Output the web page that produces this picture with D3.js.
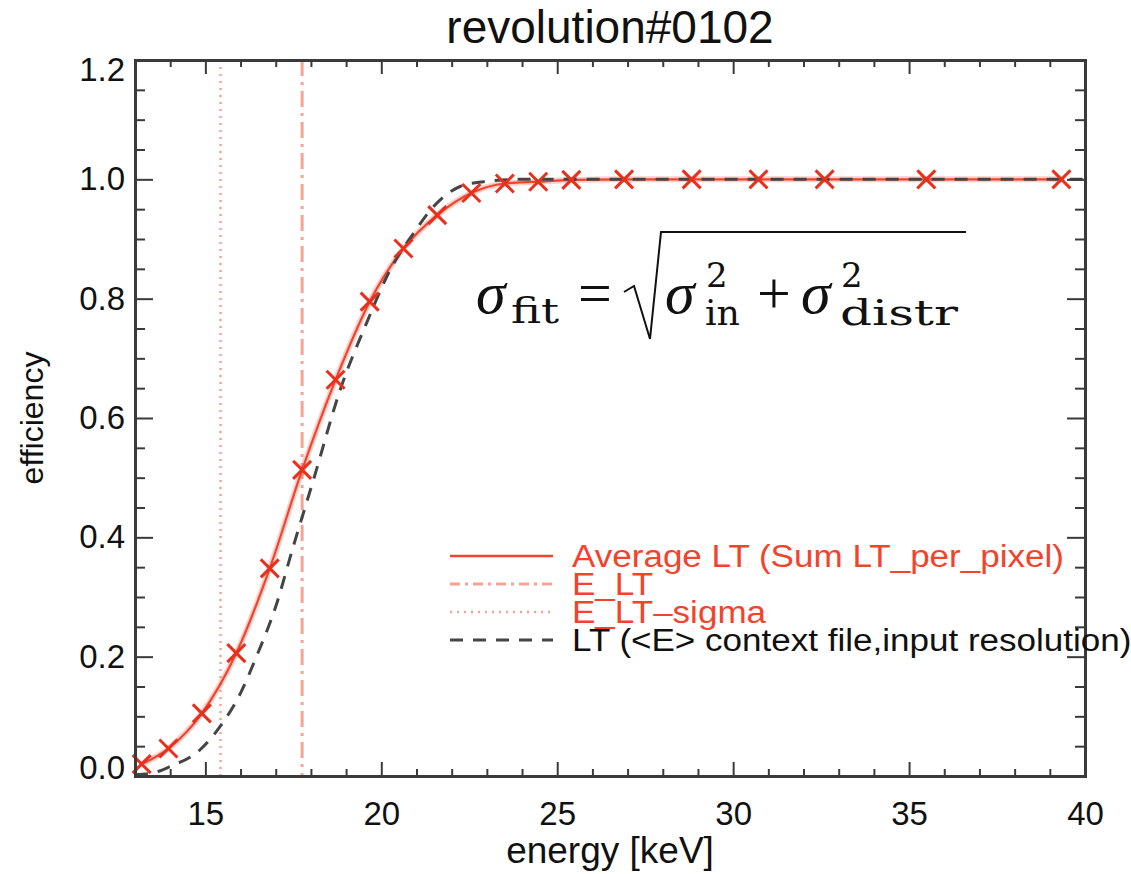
<!DOCTYPE html>
<html>
<head>
<meta charset="utf-8">
<script src="https://cdn.jsdelivr.net/npm/d3@7"></script>
<style>
  body { margin: 0; background: #fff; }
  text { font-family: "Liberation Sans", Arial, sans-serif; }
</style>
</head>
<body>
<div class="chart"></div>
<script>
// efficiency vs energy, revolution#0102

// Average LT (Sum LT_per_pixel), the points with the crosses
const avgEnergy = [13.19, 13.95, 14.90, 15.88, 16.83, 17.75, 18.70, 19.67, 20.63, 21.59,
  22.56, 23.51, 24.46, 25.40, 26.90, 28.82, 30.72, 32.60, 35.49, 39.33];
const avgLT = [0.020, 0.046, 0.105, 0.206, 0.348, 0.513, 0.664, 0.795, 0.884, 0.940,
  0.977, 0.993, 0.996, 0.999, 1.0, 1.0, 1.0, 1.0, 1.0, 1.0];

// LT (<E> context file, input resolution), dashed curve
const ctxEnergy = [13.0, 13.5, 14.0, 14.85, 15.42, 16.0, 16.45, 17.0, 17.5, 18.07, 18.83,
  19.58, 20.25, 20.91, 21.48, 22.24, 22.90, 24.0, 26.0, 30.0, 35.0, 40.0];
const ctxLT = [0.002, 0.005, 0.016, 0.044, 0.083, 0.139, 0.200, 0.284, 0.385, 0.496, 0.647,
  0.759, 0.848, 0.909, 0.954, 0.988, 0.996, 1.0, 1.0, 1.0, 1.0, 1.0];

// vertical markers
const eLT = 17.75;
const eLTsigma = 15.43;

// ticks
const xTicks = [15, 20, 25, 30, 35, 40];
const yTicks = [0.0, 0.2, 0.4, 0.6, 0.8, 1.0, 1.2];

const legendLabels = ["Average LT (Sum LT_per_pixel)", "E_LT", "E_LT\u2013sigma",
  "LT (<E> context file,input resolution)"];

const margin = { top: 60, right: 46, bottom: 98, left: 135 },
  width = 1131 - margin.left - margin.right,
  height = 874 - margin.top - margin.bottom;

const red = "#f2432c";
const pale = "#f7a394";
const axisColor = "#3a3a3a";

const svg = d3.select(".chart")
  .append("svg")
  .attr("width", 1131)
  .attr("height", 874)
  .append("g")
  .attr("transform", "translate(" + margin.left + "," + margin.top + ")");

const x = d3.scaleLinear().domain([13, 40]).range([0, width]);
const y = d3.scaleLinear().domain([0, 1.2]).range([height, 0]);

drawVerticals();
drawCurves();
drawAxes();
drawLegend();
drawFormula();
drawTitles();

// dotted and dash-dot vertical lines
function drawVerticals() {
  svg.append("line")
    .attr("x1", x(eLTsigma)).attr("x2", x(eLTsigma))
    .attr("y1", 0).attr("y2", height)
    .attr("stroke", pale)
    .attr("stroke-width", 2.5)
    .attr("stroke-dasharray", "2,5");

  svg.append("line")
    .attr("x1", x(eLT)).attr("x2", x(eLT))
    .attr("y1", 0).attr("y2", height)
    .attr("stroke", pale)
    .attr("stroke-width", 3)
    .attr("stroke-dasharray", "16,6,3,6");
}

function drawCurves() {
  const ctx = ctxEnergy.map((e, i) => ({ e: e, v: ctxLT[i] }));
  const avg = avgEnergy.map((e, i) => ({ e: e, v: avgLT[i] }));

  const line = d3.line()
    .x(d => x(d.e))
    .y(d => y(d.v))
    .curve(d3.curveMonotoneX);

  // pale halo under the red curve
  svg.append("path")
    .datum(avg)
    .attr("fill", "none")
    .attr("stroke", red)
    .attr("stroke-opacity", 0.25)
    .attr("stroke-width", 6)
    .attr("d", line);

  svg.append("path")
    .datum(avg)
    .attr("fill", "none")
    .attr("stroke", red)
    .attr("stroke-width", 2.2)
    .attr("d", line);

  svg.append("path")
    .datum(ctx)
    .attr("fill", "none")
    .attr("stroke", "#454545")
    .attr("stroke-width", 3)
    .attr("stroke-dasharray", "13,10")
    .attr("d", line);

  // crosses
  const s = 9;
  svg.selectAll(".cross")
    .data(avg)
    .enter()
    .append("path")
    .attr("class", "cross")
    .attr("transform", d => "translate(" + x(d.e) + "," + y(d.v) + ")")
    .attr("d", "M" + -s + "," + -s + "L" + s + "," + s + "M" + -s + "," + s + "L" + s + "," + -s)
    .attr("stroke", "#e8301c")
    .attr("stroke-width", 3)
    .attr("fill", "none");
}

function drawAxes() {
  const xMinor = d3.range(13, 41, 1).filter(v => xTicks.indexOf(v) < 0);
  const yMinor = d3.range(0, 25).map(i => i * 0.05).filter(v => yTicks.every(t => Math.abs(t - v) > 1e-6));

  // bottom axis
  const bottom = svg.append("g")
    .attr("transform", "translate(0," + height + ")")
    .call(d3.axisBottom(x).tickValues(xTicks).tickSize(-14).tickPadding(26).tickFormat(d3.format("d")));
  bottom.append("g").call(d3.axisBottom(x).tickValues(xMinor).tickSize(-7).tickFormat(""));

  // top axis
  const top = svg.append("g")
    .call(d3.axisTop(x).tickValues(xTicks).tickSize(-14).tickFormat(""));
  top.append("g").call(d3.axisTop(x).tickValues(xMinor).tickSize(-7).tickFormat(""));

  // left axis
  const left = svg.append("g")
    .call(d3.axisLeft(y).tickValues(yTicks).tickSize(-18).tickPadding(10).tickFormat(d3.format(".1f")));
  left.append("g").call(d3.axisLeft(y).tickValues(yMinor).tickSize(-10).tickFormat(""));

  // the end labels sit a little inside, like in the IDL plot
  left.selectAll(".tick text")
    .attr("dy", d => d === 1.2 ? "0.62em" : d === 0 ? "0.08em" : "0.32em");

  // right axis
  const right = svg.append("g")
    .attr("transform", "translate(" + width + ",0)")
    .call(d3.axisRight(y).tickValues(yTicks).tickSize(-18).tickFormat(""));
  right.append("g").call(d3.axisRight(y).tickValues(yMinor).tickSize(-10).tickFormat(""));

  svg.selectAll(".domain")
    .attr("stroke", axisColor)
    .attr("stroke-width", 3);
  svg.selectAll(".tick line")
    .attr("stroke", axisColor)
    .attr("stroke-width", 2);
  svg.selectAll(".tick text")
    .attr("fill", "#111")
    .style("font-size", "33px");
}

function drawLegend() {
  const legend = svg.append("g")
    .attr("transform", "translate(" + (450 - margin.left) + "," + (556 - margin.top) + ")");
  const rowH = 28;
  const styles = [
    { color: red, dash: null, w: 2.5 },
    { color: pale, dash: "10,5,3,5", w: 3 },
    { color: pale, dash: "2,5", w: 2.5 },
    { color: "#454545", dash: "13,10", w: 3 }
  ];
  const textColors = [red, red, red, "#111"];

  const rows = legend.selectAll(".legend-item")
    .data(legendLabels)
    .enter()
    .append("g")
    .attr("class", "legend-item")
    .attr("transform", (d, i) => "translate(0," + i * rowH + ")");

  rows.append("line")
    .attr("x1", 0).attr("x2", 103)
    .attr("y1", 0).attr("y2", 0)
    .attr("stroke", (d, i) => styles[i].color)
    .attr("stroke-width", (d, i) => styles[i].w)
    .attr("stroke-dasharray", (d, i) => styles[i].dash);

  // the labels of the reference are a little wider than Liberation Sans
  rows.append("text")
    .attr("x", 122)
    .attr("y", 11)
    .attr("fill", (d, i) => textColors[i])
    .style("font-size", "31px")
    .text(d => d)
    .attr("lengthAdjust", "spacingAndGlyphs")
    .attr("textLength", function () { return this.getComputedTextLength() * 1.13; });
}

// sigma_fit = sqrt(sigma_in^2 + sigma_distr^2)
function drawFormula() {
  const f = svg.append("g")
    .attr("transform", "translate(" + -margin.left + "," + -margin.top + ")")
    .attr("fill", "#111");
  const base = 313;
  const mainFont = "'Liberation Serif', serif";
  const subFont = "'DejaVu Serif', serif";

  const parts = [
    { t: "\u03c3", x: 476, y: base, s: 60, it: true },
    { t: "fit", x: 511, y: base + 10, s: 36, len: 48, sub: true },
    { t: "=", x: 578, y: base, s: 60 },
    { t: "\u03c3", x: 665, y: base, s: 60, it: true },
    { t: "2", x: 706, y: base - 26, s: 34, sub: true },
    { t: "in", x: 705, y: base + 12, s: 36, len: 35, sub: true },
    { t: "+", x: 757, y: base, s: 60 },
    { t: "\u03c3", x: 801, y: base, s: 60, it: true },
    { t: "2", x: 841, y: base - 26, s: 34, sub: true },
    { t: "distr", x: 840, y: base + 12, s: 36, len: 118, sub: true }
  ];
  f.selectAll("text")
    .data(parts)
    .enter()
    .append("text")
    .attr("x", d => d.x)
    .attr("y", d => d.y)
    .style("font-family", d => d.sub ? subFont : mainFont)
    .style("font-size", d => d.s + "px")
    .style("font-style", d => d.it ? "italic" : "normal")
    .attr("textLength", d => d.len || null)
    .attr("lengthAdjust", d => d.len ? "spacingAndGlyphs" : null)
    .text(d => d.t);

  f.append("path")
    .attr("d", "M624,292 L634,286 L650,339 L661,232 L966,232")
    .attr("fill", "none")
    .attr("stroke", "#111")
    .attr("stroke-width", 2);
}

function drawTitles() {
  svg.append("text")
    .attr("text-anchor", "middle")
    .attr("x", width / 2)
    .attr("y", 43 - margin.top)
    .style("font-size", "46px")
    .attr("fill", "#111")
    .text("revolution#0102");

  svg.append("text")
    .attr("text-anchor", "middle")
    .attr("x", width / 2)
    .attr("y", height + 87)
    .style("font-size", "37px")
    .attr("fill", "#111")
    .text("energy [keV]");

  svg.append("text")
    .attr("text-anchor", "middle")
    .attr("transform", "rotate(-90)")
    .attr("x", -height / 2)
    .attr("y", 43 - margin.left)
    .style("font-size", "32px")
    .attr("fill", "#111")
    .text("efficiency");
}
</script>
</body>
</html>
